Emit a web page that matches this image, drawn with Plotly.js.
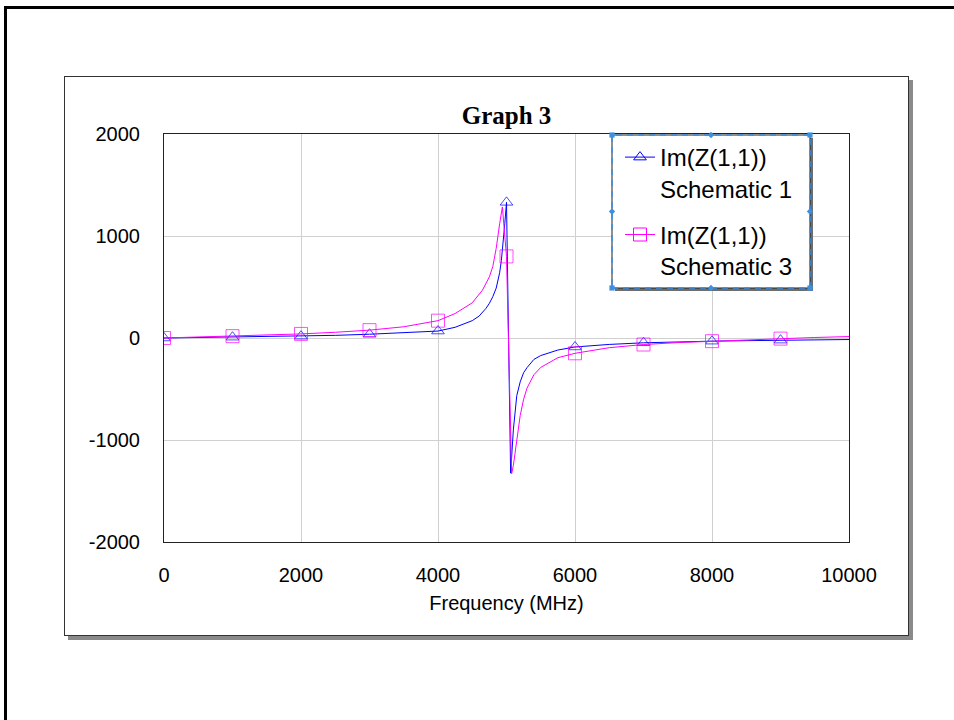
<!DOCTYPE html>
<html>
<head>
<meta charset="utf-8">
<script src="https://cdn.plot.ly/plotly-3.0.1.min.js"></script>
<style>
  html, body { margin: 0; padding: 0; background: #fff; overflow: hidden; }
  #page { position: relative; width: 954px; height: 720px; overflow: hidden; background: #fff; }
  #frame { position: absolute; left: 4px; top: 6px; width: 1000px; height: 800px;
           border-left: 3px solid #000; border-top: 3px solid #000; }
  #panel { position: absolute; left: 64px; top: 76px; width: 843px; height: 558px;
           border: 1px solid #333; box-shadow: 4px 4px 0 #8a8a8a; background: #fff; }
  #chart { position: absolute; left: 0; top: 0; width: 954px; height: 720px; }
</style>
</head>
<body>
<div id="page">
  <div id="frame"></div>
  <div id="panel"></div>
  <div id="chart"></div>
</div>
<script>
// Im(Z(1,1)) versus frequency, two schematics
const freqS1 = [0, 500, 1000, 1500, 2000, 2500, 3000, 3500, 4000, 4250, 4500, 4600, 4700, 4750, 4800,
                4850, 4900, 4925, 4950, 4975, 5000, 5060, 5100, 5150, 5200, 5250, 5300, 5400, 5500,
                5750, 6000, 6500, 7000, 7500, 8000, 8500, 9000, 9500, 10000];
const imS1   = [0, 4, 8, 13, 18, 26, 37, 50, 68, 105, 170, 215, 290, 340, 405,
                490, 640, 760, 920, 1120, 1330, -1325, -900, -565, -430, -340, -290, -210, -172,
                -118, -88, -63, -47, -37, -31, -26, -21, -18, -15];

const freqS3 = [0, 500, 1000, 1500, 2000, 2500, 3000, 3500, 4000, 4250, 4500, 4650, 4750, 4800,
                4850, 4900, 4940, 5000, 5075, 5100, 5150, 5200, 5250, 5300, 5400, 5500, 5750,
                6000, 6500, 7000, 7500, 8000, 8500, 9000, 9500, 10000];
const imS3   = [0, 9, 18, 29, 40, 56, 77, 110, 170, 240, 345, 470, 600, 700,
                880, 1120, 1285, 800, -1330, -1250, -1000, -760, -600, -490, -360, -288, -193,
                -150, -95, -64, -45, -31, -18, -6, 5, 14];

// frequencies that carry a symbol on each curve
const markerFreqs = [0, 1000, 2000, 3000, 4000, 5000, 6000, 7000, 8000, 9000];

const seriesNames = ['Im(Z(1,1))<br>Schematic 1', 'Im(Z(1,1))<br>Schematic 3'];

const xTickVals = [0, 2000, 4000, 6000, 8000, 10000];
const xTickText = ['0', '2000', '4000', '6000', '8000', '10000'];
const yTickVals = [-2000, -1000, 0, 1000, 2000];
const yTickText = ['-2000', '-1000', '0', '1000', '2000'];

const BLUE = '#0000ff';
const MAGENTA = '#ff00ff';

function symbolSizes(freqs, size) {
  return freqs.map(f => markerFreqs.includes(f) ? size : 0);
}

// plot-area geometry, used to place the legend frame decorations
const W = 954, H = 720;
const M = { l: 164, r: 105, t: 134, b: 178 };
const PW = W - M.l - M.r, PH = H - M.t - M.b;
const px = v => (v - M.l) / PW;
const py = v => (H - M.b - v) / PH;

function curve(freqs, values, color, symbol, size, group) {
  return {
    x: freqs, y: values, type: 'scatter', mode: 'lines+markers',
    legendgroup: group, showlegend: false,
    line: { color: color, width: 1 },
    marker: { symbol: symbol, color: color, size: symbolSizes(freqs, size), line: { width: 1, color: color } },
    hoverinfo: 'skip'
  };
}
// legend entry: same line and symbol style, no points of its own
function legendEntry(name, color, symbol, size, group) {
  return {
    x: [null], y: [null], type: 'scatter', mode: 'lines+markers',
    name: name, legendgroup: group, showlegend: true,
    line: { color: color, width: 1 },
    marker: { symbol: symbol, color: color, size: size, line: { width: 1, color: color } },
    hoverinfo: 'skip'
  };
}

const traces = [
  curve(freqS1, imS1, BLUE, 'triangle-up-open', 11, 's1'),
  curve(freqS3, imS3, MAGENTA, 'square-open', 13, 's3'),
  legendEntry(seriesNames[0], BLUE, 'triangle-up-open', 11, 's1'),
  legendEntry(seriesNames[1], MAGENTA, 'square-open', 13, 's3')
];

// legend frame: shadow, white box, dashed selection outline and handles
const LB = { x0: 612, x1: 810, y0: 135, y1: 288 };
const handleColor = '#3d8fe0';
function handle(cx, cy, kind) {
  const s = 2.6;
  if (kind === 'square') {
    return { type: 'rect', xref: 'paper', yref: 'paper', layer: 'above',
             x0: px(cx - s), x1: px(cx + s), y0: py(cy + s), y1: py(cy - s),
             fillcolor: handleColor, line: { width: 0 } };
  }
  const d = 3.2;
  return { type: 'path', xref: 'paper', yref: 'paper', layer: 'above',
           path: `M${px(cx - d)},${py(cy)} L${px(cx)},${py(cy - d)} L${px(cx + d)},${py(cy)} L${px(cx)},${py(cy + d)} Z`,
           fillcolor: handleColor, line: { width: 0 } };
}
const midX = (LB.x0 + LB.x1) / 2, midY = (LB.y0 + LB.y1) / 2;
const shapes = [
  { type: 'rect', xref: 'paper', yref: 'paper', layer: 'above',
    x0: px(LB.x0 + 3), x1: px(LB.x1 + 3), y0: py(LB.y1 + 3), y1: py(LB.y0 + 3),
    fillcolor: '#6e6e6e', line: { width: 0 } },
  { type: 'rect', xref: 'paper', yref: 'paper', layer: 'above',
    x0: px(LB.x0), x1: px(LB.x1), y0: py(LB.y1), y1: py(LB.y0),
    fillcolor: '#ffffff', line: { color: '#222', width: 1 } },
  { type: 'rect', xref: 'paper', yref: 'paper', layer: 'above',
    x0: px(LB.x0), x1: px(LB.x1), y0: py(LB.y1), y1: py(LB.y0),
    fillcolor: 'rgba(0,0,0,0)', line: { color: handleColor, width: 1.5, dash: '6px,5px' } },
  handle(LB.x0, LB.y0, 'square'), handle(LB.x1, LB.y0, 'square'),
  handle(LB.x0, LB.y1, 'square'), handle(LB.x1, LB.y1, 'square'),
  handle(midX, LB.y0, 'diamond'), handle(midX, LB.y1, 'diamond'),
  handle(LB.x0, midY, 'diamond'), handle(LB.x1, midY, 'diamond')
];

const axisCommon = {
  showgrid: true, gridcolor: '#d0d0d0', gridwidth: 1,
  zeroline: false, showline: true, linecolor: '#222', linewidth: 1, mirror: true,
  ticks: '', tickmode: 'array',
  tickfont: { size: 20, color: '#000' }, fixedrange: true
};

const layout = {
  width: W, height: H,
  margin: { l: M.l, r: M.r, t: M.t, b: M.b, pad: 0 },
  paper_bgcolor: 'rgba(0,0,0,0)',
  plot_bgcolor: '#ffffff',
  font: { family: '"Liberation Sans", Arial, sans-serif', size: 20, color: '#000' },
  title: {
    text: 'Graph 3',
    font: { family: '"Liberation Serif", "Times New Roman", serif', size: 25, weight: 'bold', color: '#000' },
    x: 0.5, xref: 'paper', xanchor: 'center',
    y: 1 - 115 / H, yref: 'container', yanchor: 'middle'
  },
  xaxis: Object.assign({}, axisCommon, {
    range: [0, 10000], tickvals: xTickVals, ticktext: xTickText,
    ticklabelstandoff: 15,
    title: { text: 'Frequency (MHz)', standoff: 10, font: { size: 20, color: '#000' } }
  }),
  yaxis: Object.assign({}, axisCommon, {
    range: [-2000, 2000], tickvals: yTickVals, ticktext: yTickText,
    ticklabelstandoff: 19
  }),
  showlegend: true,
  legend: {
    x: px(LB.x0 + 8), y: py(LB.y0), xanchor: 'left', yanchor: 'top',
    bgcolor: 'rgba(0,0,0,0)', borderwidth: 0,
    font: { size: 24, color: '#000' },
    valign: 'top', itemsizing: 'trace',
    traceorder: 'grouped', tracegroupgap: 12
  },
  shapes: shapes
};

Plotly.newPlot('chart', traces, layout, { displayModeBar: false, staticPlot: true });
</script>
</body>
</html>
